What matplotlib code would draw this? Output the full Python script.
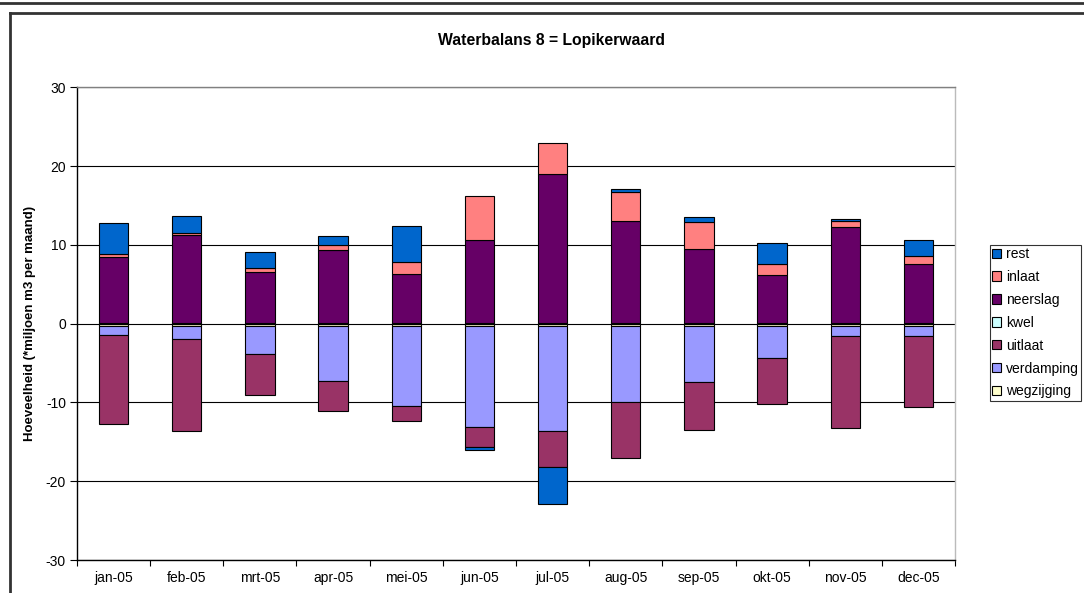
import numpy as np
import matplotlib.pyplot as plt
from matplotlib.patches import Rectangle
from matplotlib.lines import Line2D

plt.rcParams['font.family'] = ['Liberation Sans', 'DejaVu Sans']
plt.rcParams['axes.unicode_minus'] = False

maanden = ['jan-05', 'feb-05', 'mrt-05', 'apr-05', 'mei-05', 'jun-05',
           'jul-05', 'aug-05', 'sep-05', 'okt-05', 'nov-05', 'dec-05']

# miljoen m3 per maand
wegzijging = [-0.3, -0.3, -0.3, -0.3, -0.3, -0.3, -0.3, -0.3, -0.3, -0.3, -0.3, -0.3]
verdamping = [-1.2, -1.6, -3.6, -7.0, -10.1, -12.8, -13.3, -9.7, -7.1, -4.0, -1.3, -1.3]
uitlaat = [-11.3, -11.7, -5.1, -3.8, -2.0, -2.6, -4.6, -7.0, -6.1, -5.9, -11.7, -9.0]
kwel = [0.05, 0.05, 0.05, 0.05, 0.05, 0.05, 0.05, 0.05, 0.05, 0.05, 0.05, 0.05]
neerslag = [8.45, 11.15, 6.55, 9.3, 6.25, 10.55, 18.95, 13.0, 9.45, 6.15, 12.25, 7.55]
inlaat = [0.4, 0.35, 0.5, 0.65, 1.5, 5.6, 3.9, 3.6, 3.4, 1.4, 0.75, 1.05]
rest = [3.85, 2.1, 1.95, 1.15, 4.6, -0.4, -4.65, 0.4, 0.6, 2.6, 0.25, 1.95]

reeksen = [
    ('wegzijging', wegzijging, '#FFFFCC'),
    ('verdamping', verdamping, '#9999FF'),
    ('uitlaat', uitlaat, '#993366'),
    ('kwel', kwel, '#CCFFFF'),
    ('neerslag', neerslag, '#660066'),
    ('inlaat', inlaat, '#FF8080'),
    ('rest', rest, '#0066CC'),
]

fig = plt.figure(figsize=(10.84, 5.93), dpi=100)
ax = fig.add_axes([77 / 1084, 1 - 560 / 593, (955 - 77) / 1084, (560 - 87.3) / 593])

x = np.arange(len(maanden))
pos_bottom = np.zeros(len(maanden))
neg_bottom = np.zeros(len(maanden))
handles = []
for naam, waarden, kleur in reeksen:
    v = np.array(waarden, dtype=float)
    bottom = np.where(v >= 0, pos_bottom, neg_bottom)
    ax.bar(x, v, width=0.4, bottom=bottom, color=kleur, edgecolor='black',
           linewidth=0.8, zorder=3)
    pos_bottom = pos_bottom + np.where(v >= 0, v, 0)
    neg_bottom = neg_bottom + np.where(v < 0, v, 0)
    handles.append(Rectangle((0, 0), 1, 1, facecolor=kleur, edgecolor='black', linewidth=0.8))

ax.set_xlim(-0.5, len(maanden) - 0.5)
ax.set_ylim(-30, 30)
ax.set_yticks(np.arange(-30, 31, 10))
ax.set_xticks(x)
ax.set_xticklabels(maanden)
ax.set_xticks(np.arange(-0.5, len(maanden), 1), minor=True)
ax.tick_params(axis='x', which='major', length=0, labelsize=10, pad=8)
ax.tick_params(axis='x', which='minor', length=4, direction='out', width=0.8)
ax.tick_params(axis='y', length=5, width=0.8, labelsize=10, pad=3)
ax.grid(axis='y', color='black', linewidth=0.8, zorder=1)

ax.spines['left'].set_color('black')
ax.spines['bottom'].set_color('black')
ax.spines['top'].set_color('#808080')
ax.spines['right'].set_color('#BBBBBB')
for s in ax.spines.values():
    s.set_linewidth(1.0)

ax.set_ylabel('Hoeveelheid (*miljoen m3 per maand)', fontsize=9.5, fontweight='bold', labelpad=7)
fig.text(551 / 1084, 1 - 41 / 593, 'Waterbalans 8 = Lopikerwaard', ha='center', va='center',
         fontsize=11.3, fontweight='bold')

leg = fig.legend(handles[::-1], [r[0] for r in reeksen][::-1],
                 loc='upper left', bbox_to_anchor=(990 / 1084, 1 - 245 / 593),
                 fontsize=10, frameon=True, fancybox=False, edgecolor='black',
                 handlelength=0.65, handleheight=0.65, handletextpad=0.35,
                 labelspacing=0.64, borderpad=0.15, borderaxespad=0)
leg.get_frame().set_linewidth(0.8)

# chart borders
fig.add_artist(Line2D([0, 1], [1 - 2.5 / 593, 1 - 2.5 / 593], color='#333333', linewidth=2))
fig.add_artist(Line2D([10 / 1084, 10 / 1084], [0, 1 - 13 / 593], color='#333333', linewidth=2))
fig.add_artist(Line2D([10 / 1084, 1], [1 - 13 / 593, 1 - 13 / 593], color='#333333', linewidth=2))

fig.savefig('out.png', dpi=100)
